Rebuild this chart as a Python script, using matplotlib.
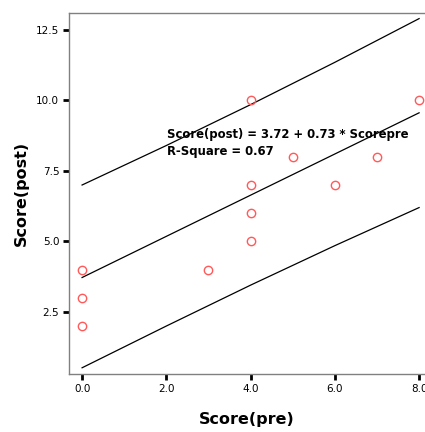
import matplotlib
matplotlib.use("Agg")
import matplotlib.pyplot as plt

# observed scores
score_pre = [0, 0, 0, 3, 4, 4, 4, 4, 5, 6, 7, 8]
score_post = [4, 3, 2, 4, 10, 7, 6, 5, 8, 7, 8, 10]

# fitted line and prediction bounds
line_x = [0, 2, 4, 6, 8]
fit_y = [3.72, 5.18, 6.64, 8.10, 9.56]
upper_y = [7.0, 8.4, 9.85, 11.35, 12.9]
lower_y = [0.52, 2.0, 3.45, 4.85, 6.2]

x_ticks = [0, 2, 4, 6, 8]
y_ticks = [2.5, 5.0, 7.5, 10.0, 12.5]

fig = plt.figure(figsize=(4.25, 4.32), dpi=100)
ax = fig.add_axes([0.1624, 0.1343, 0.8376, 0.8357])

ax.plot(line_x, upper_y, color="black", lw=0.9)
ax.plot(line_x, fit_y, color="black", lw=0.9)
ax.plot(line_x, lower_y, color="black", lw=0.9)
ax.plot(score_pre, score_post, "o", mfc="none", mec="#ff5a5a", ms=6, mew=1.0, ls="none")

ax.text(2.02, 8.80, "Score(post) = 3.72 + 0.73 * Scorepre", fontsize=8.4,
        fontweight="bold", family="DejaVu Sans", va="center")
ax.text(2.02, 8.20, "R-Square = 0.67", fontsize=8.4,
        fontweight="bold", family="DejaVu Sans", va="center")

ax.set_xlim(-0.31, 8.14)
ax.set_ylim(0.30, 13.1)
ax.set_xticks(x_ticks)
ax.set_xticklabels(["%.1f" % v for v in x_ticks])
ax.set_yticks(y_ticks)
ax.set_yticklabels(["%.1f" % v for v in y_ticks])
ax.tick_params(direction="out", length=4, width=2, color="black", labelsize=7.5, pad=3)
for lab in ax.get_xticklabels() + ax.get_yticklabels():
    lab.set_family("DejaVu Sans")

for s in ["left", "top", "bottom"]:
    ax.spines[s].set_color("#808080")
    ax.spines[s].set_linewidth(1.0)
ax.spines["right"].set_visible(False)

ax.set_xlabel("Score(pre)", fontsize=11.5, fontweight="bold", family="DejaVu Sans", labelpad=13)
ax.set_ylabel("Score(post)", fontsize=11.5, fontweight="bold", family="DejaVu Sans", labelpad=5.5)

fig.savefig("out.png", dpi=100)
